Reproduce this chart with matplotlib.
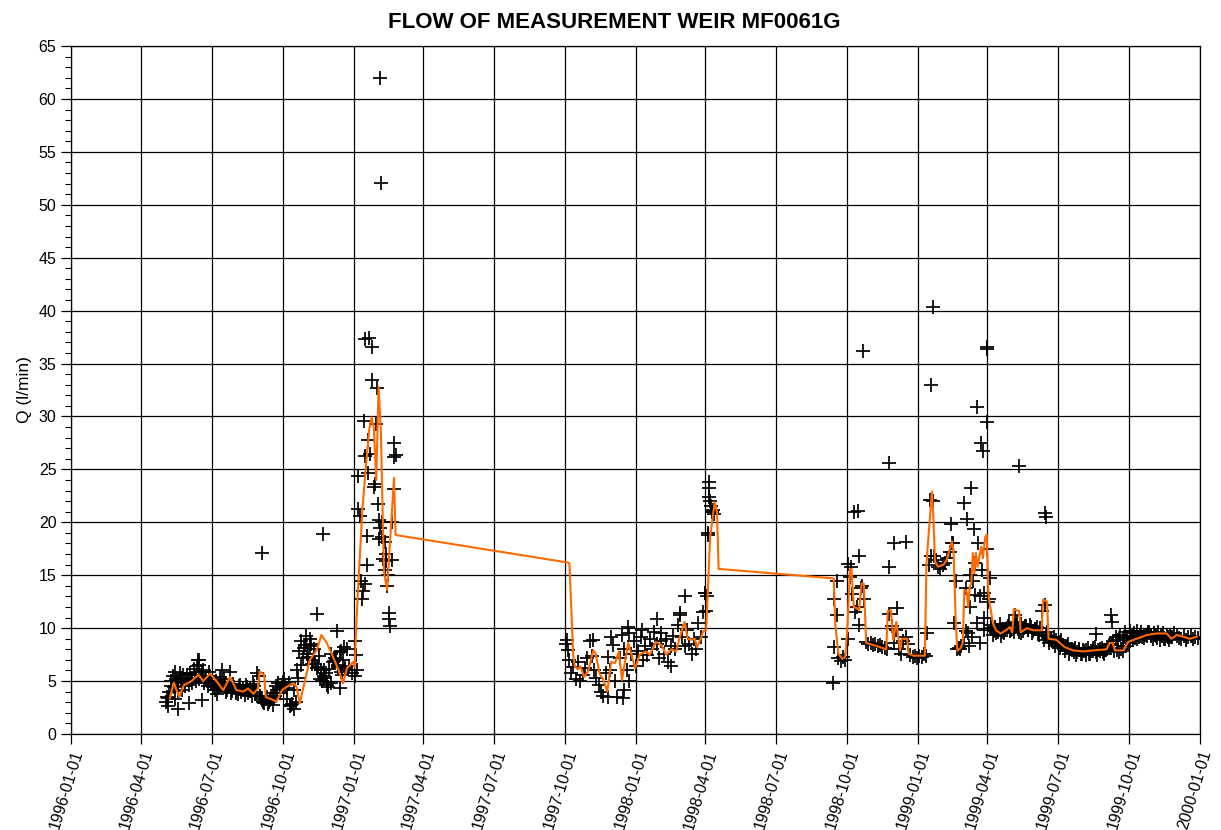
import numpy as np
import pandas as pd
import matplotlib
matplotlib.use('Agg')
import matplotlib.pyplot as plt
import matplotlib.dates as mdates
from matplotlib.ticker import MultipleLocator

# measured flow, regular readings (every 3 days) per campaign
seg1_start = '1996-05-03'
seg1_vals = [3.0, 2.6, 4.5, 5.5, 3.3, 4.8, 5.8, 4.2, 5.0, 5.6, 4.6, 5.3, 6.1, 5.0,
             7.0, 5.4, 6.0, 5.1, 4.5, 5.5, 4.9, 4.2, 3.8, 4.5, 6.0, 5.2, 4.0, 4.4,
             3.9, 4.7, 4.2, 3.8, 4.6, 4.3, 3.7, 4.4, 4.1, 3.6, 4.5, 4.0, 5.5, 3.4,
             3.0, 3.3, 2.8, 3.2, 2.7, 3.6, 4.2, 3.9, 4.6, 5.2, 4.3, 4.8, 2.7, 2.4,
             3.0, 5.3, 6.5, 7.2, 8.4, 7.6, 9.0, 6.6, 8.0, 6.2, 7.4, 6.0, 5.5, 5.8,
             4.4, 4.8, 6.8, 7.2, 6.3, 7.7, 5.6, 6.0, 8.0, 6.4, 5.8]

# second reading series, first campaign (offset days)
seg1b_start = '1996-05-04'
seg1b_vals = [3.5, 4.0, 5.0, 4.4, 5.2, 4.1, 5.3, 5.6, 4.5, 5.1, 5.8, 4.8, 5.6, 6.4,
              5.2, 5.9, 4.8, 5.3, 5.9, 4.7, 4.4, 5.0, 4.3, 5.4, 4.6, 4.8, 4.2, 4.6,
              4.1, 4.4, 3.9, 4.5, 4.0, 4.2, 4.6, 3.9, 4.3, 4.7, 3.8, 5.8, 3.6, 3.2,
              2.9, 3.5, 3.0, 3.4, 3.9, 4.5, 4.8, 4.3, 4.9, 4.6, 3.3, 2.6, 2.8, 4.2,
              6.0, 7.8, 8.8, 8.1, 9.3, 7.3, 8.5, 7.0, 6.6, 6.3, 5.2, 5.0, 5.3, 4.6,
              6.1, 7.6, 6.9, 7.1, 6.5, 5.9, 7.0, 6.2]

seg2_start = '1997-10-03'
seg2_vals = [8.5, 7.0, 5.8, 6.3, 5.2, 6.8, 5.0, 5.6, 6.2, 7.2, 8.8, 7.4, 6.0, 5.3,
             4.6, 4.0, 3.6, 5.8, 7.3, 6.0, 8.4, 5.0, 3.5, 7.2, 9.4, 8.0, 6.0, 5.0,
             7.6, 8.8, 6.4, 7.8, 9.2, 7.0, 8.3, 7.5, 9.0, 8.0, 9.6, 8.5, 7.2, 8.8,
             7.6, 9.0, 6.8, 8.3, 9.3, 8.0, 10.3, 11.2, 9.2, 8.3, 9.8, 8.5, 7.6, 9.0,
             8.0, 10.5, 9.2, 11.5, 13.3, 19.0, 22.0, 21.0]

seg3_start = '1998-09-20'
seg3_vals = [7.2, 6.9, 7.3, 7.0, 9.0, 14.8, 13.2, 11.5, 12.0, 10.3, 14.0, 12.8, 8.7,
             8.5, 8.6, 8.4, 8.5, 8.3, 8.4, 8.2, 8.1, 8.0, 11.3, 10.2, 8.6, 9.8, 8.0,
             7.6, 8.8, 9.2, 8.5, 7.5, 7.3, 7.4, 7.2, 7.4, 7.3, 7.6, 7.4, 16.0, 16.8,
             22.0, 16.4, 15.8, 15.6, 16.0, 16.2, 16.6, 17.2, 18.0, 10.5, 8.0, 8.1,
             8.3, 8.6, 13.8, 9.5, 12.0, 14.5, 16.2, 10.5, 13.0, 15.5, 11.0, 17.5,
             12.8, 10.0, 9.7, 9.5, 9.8, 9.3, 9.6, 9.9, 10.2, 9.7, 9.9, 11.2, 10.6,
             9.6, 9.5, 10.0, 10.2, 9.8, 10.1, 9.7, 9.9, 9.6, 10.0, 11.6, 12.2, 9.6,
             9.1, 8.8, 9.2, 8.9, 8.7, 8.9, 8.4, 8.2, 8.5, 8.0, 7.9, 8.1, 7.7, 7.9,
             7.6, 7.8, 7.9, 7.6, 7.8, 8.1, 7.7, 7.9, 8.0, 7.7, 7.9, 8.0, 8.5, 8.4,
             7.8, 7.9, 7.7, 8.0, 7.8, 8.3, 8.6, 8.8, 8.9, 9.1, 9.0, 9.3, 9.2, 9.4,
             9.3, 9.6, 9.4, 9.5, 9.3, 9.6, 9.4, 9.5, 9.0, 9.2, 9.4, 9.2, 9.5, 9.3,
             9.1, 9.0, 9.3, 8.9, 9.2, 9.3, 9.0, 9.2, 9.1]

# second reading series in the steady period (offset days, scatter around the mean)
seg4_start = '1999-04-05'
seg4_vals = [10.3, 9.4, 10.1, 9.6, 10.4, 9.9, 9.5, 10.0, 10.5, 9.8, 9.6, 10.3, 9.9,
             10.4, 9.7, 10.2, 9.8, 10.3, 9.5, 9.9, 10.1, 9.4, 9.6, 8.9, 9.3, 8.6,
             9.0, 8.7, 8.3, 8.6, 8.1, 8.4, 7.8, 8.2, 7.6, 8.0, 7.7, 7.5, 8.0, 7.6,
             7.9, 7.5, 8.1, 7.6, 7.8, 8.2, 7.5, 7.8, 8.1, 7.6, 7.9, 8.4, 8.1, 8.8,
             9.2, 8.9, 9.4, 9.1, 9.6, 9.2, 9.7, 9.3, 9.5, 9.7, 9.2, 9.6, 9.1, 9.4,
             9.6, 9.3, 9.0, 9.4, 9.1, 8.9, 9.3, 9.0, 9.3, 8.9, 9.2]

# single readings (storm events, outliers)
extra_dates = ['1996-05-06', '1996-05-15', '1996-05-18', '1996-06-02', '1996-06-13',
               '1996-06-14', '1996-06-18', '1996-07-25', '1996-09-04', '1996-11-05',
               '1996-11-14', '1996-11-20', '1996-11-22', '1996-11-23', '1996-12-10',
               '1996-12-14', '1996-12-16', '1996-12-19',
               '1997-01-02', '1997-01-03', '1997-01-04', '1997-01-05', '1997-01-07',
               '1997-01-07', '1997-01-09', '1997-01-10', '1997-01-11', '1997-01-13',
               '1997-01-14', '1997-01-15', '1997-01-15', '1997-01-15', '1997-01-18',
               '1997-01-18', '1997-01-19', '1997-01-19', '1997-01-21', '1997-01-22',
               '1997-01-24', '1997-01-25', '1997-01-27', '1997-01-29', '1997-01-30',
               '1997-01-31', '1997-02-01', '1997-02-03', '1997-02-03', '1997-02-04',
               '1997-02-04', '1997-02-05', '1997-02-06', '1997-02-07', '1997-02-08',
               '1997-02-10', '1997-02-10', '1997-02-11', '1997-02-12', '1997-02-13',
               '1997-02-14', '1997-02-16', '1997-02-16', '1997-02-17', '1997-02-20',
               '1997-02-20', '1997-02-22', '1997-02-22', '1997-02-22', '1997-02-24',
               '1997-10-04', '1997-10-05', '1997-11-07', '1997-11-26', '1997-11-30',
               '1997-12-15', '1997-12-17', '1997-12-22', '1997-12-23', '1998-01-09',
               '1998-01-28', '1998-02-02', '1998-02-15', '1998-02-27', '1998-03-05',
               '1998-03-31', '1998-04-02', '1998-04-03', '1998-04-04', '1998-04-05',
               '1998-04-06', '1998-04-06', '1998-04-08', '1998-04-09', '1998-04-11',
               '1998-04-12',
               '1998-09-13', '1998-09-14', '1998-09-14', '1998-09-18', '1998-09-18',
               '1998-10-03', '1998-10-07', '1998-10-10', '1998-10-15', '1998-10-17',
               '1998-10-19', '1998-10-22', '1998-11-24', '1998-11-25', '1998-12-01',
               '1998-12-05', '1998-12-16', '1999-01-13', '1999-01-16', '1999-01-18',
               '1999-01-20', '1999-01-22', '1999-02-13', '1999-02-15', '1999-02-19',
               '1999-02-24', '1999-03-02', '1999-03-04', '1999-03-06', '1999-03-08',
               '1999-03-10', '1999-03-11', '1999-03-12', '1999-03-14', '1999-03-16',
               '1999-03-19', '1999-03-20', '1999-03-22', '1999-03-24', '1999-03-26',
               '1999-03-27', '1999-03-28', '1999-03-31', '1999-04-01', '1999-04-01',
               '1999-04-02', '1999-04-04', '1999-05-12', '1999-06-15', '1999-06-16',
               '1999-08-20', '1999-09-08', '1999-09-09']
extra_vals = [3.4, 5.9, 2.4, 2.9, 7.0, 6.5, 3.2, 5.9, 17.1, 8.3,
              11.3, 6.0, 18.9, 6.0, 9.7, 4.3, 7.8, 8.2,
              5.5, 8.8, 7.5, 6.0, 24.4, 21.3, 20.6, 14.5, 12.8, 13.5,
              29.6, 37.3, 26.3, 14.2, 18.7, 16.0, 27.8, 24.7, 37.4, 26.5,
              36.6, 33.4, 23.3, 23.6, 29.3, 32.7, 21.7, 20.2, 18.4, 62.0,
              19.5, 52.1, 20.0, 18.6, 16.5, 18.1, 15.5, 17.0, 16.3, 14.0,
              15.0, 11.4, 10.9, 10.2, 20.0, 16.4, 27.5, 26.2, 23.1, 26.4,
              8.9, 7.9, 8.9, 3.5, 9.2, 3.4, 4.2, 10.1, 9.5, 9.8,
              10.9, 9.5, 6.4, 11.4, 13.0, 13.3, 11.6, 13.0, 18.8, 23.8,
              23.2, 22.4, 21.5, 21.0, 21.2, 20.8,
              4.8, 8.2, 12.8, 14.5, 11.2, 16.1, 15.8, 21.0, 21.1, 16.8,
              13.8, 36.2, 25.6, 15.8, 18.0, 11.9, 18.1, 9.5, 22.1, 33.0,
              40.3, 16.8, 19.8, 18.0, 14.5, 8.0, 21.8, 9.7, 20.3, 8.3,
              15.0, 23.2, 9.2, 19.4, 13.1, 30.9, 18.0, 8.6, 27.5, 26.7,
              13.3, 9.8, 29.5, 36.4, 36.6, 12.5, 14.7, 25.3, 20.9, 20.5,
              9.45, 11.2, 10.6]

# smoothed curve (orange)
smooth_dates = ['1996-05-08', '1996-05-13', '1996-05-20', '1996-05-26', '1996-06-05',
                '1996-06-14', '1996-06-20', '1996-06-29', '1996-07-05', '1996-07-16',
                '1996-07-25', '1996-08-02', '1996-08-11', '1996-08-17', '1996-08-24',
                '1996-08-30', '1996-09-01', '1996-09-07', '1996-09-09', '1996-09-19',
                '1996-09-23', '1996-09-30', '1996-10-06', '1996-10-15', '1996-10-19',
                '1996-10-23', '1996-10-30', '1996-11-05', '1996-11-14', '1996-11-20',
                '1996-11-27', '1996-12-05', '1996-12-12', '1996-12-18', '1996-12-23',
                '1996-12-31', '1997-01-02', '1997-01-04', '1997-01-07', '1997-01-12',
                '1997-01-16', '1997-01-21', '1997-01-24', '1997-01-27', '1997-01-30',
                '1997-02-02', '1997-02-05', '1997-02-09', '1997-02-13', '1997-02-22',
                '1997-02-24',
                '1997-10-05', '1997-10-07', '1997-10-12', '1997-10-14', '1997-10-18',
                '1997-10-21', '1997-10-26', '1997-10-31', '1997-11-07', '1997-11-10',
                '1997-11-15', '1997-11-20', '1997-11-25', '1997-11-30', '1997-12-05',
                '1997-12-10', '1997-12-14', '1997-12-22', '1997-12-26', '1997-12-31',
                '1998-01-06', '1998-01-14', '1998-01-19', '1998-01-27', '1998-02-03',
                '1998-02-09', '1998-02-16', '1998-02-22', '1998-02-27', '1998-03-05',
                '1998-03-09', '1998-03-14', '1998-03-18', '1998-03-21', '1998-03-26',
                '1998-03-29', '1998-04-02', '1998-04-07', '1998-04-13', '1998-04-16',
                '1998-04-18',
                '1998-09-14', '1998-09-16', '1998-09-20', '1998-09-25', '1998-09-29',
                '1998-10-02', '1998-10-05', '1998-10-07', '1998-10-10', '1998-10-14',
                '1998-10-17', '1998-10-20', '1998-10-23', '1998-10-26', '1998-11-09',
                '1998-11-21', '1998-11-23', '1998-11-27', '1998-11-30', '1998-12-04',
                '1998-12-07', '1998-12-09', '1998-12-11', '1998-12-18', '1998-12-20',
                '1998-12-26', '1999-01-10', '1999-01-12', '1999-01-19', '1999-01-21',
                '1999-01-23', '1999-01-27', '1999-02-03', '1999-02-07', '1999-02-12',
                '1999-02-14', '1999-02-16', '1999-02-19', '1999-02-21', '1999-02-25',
                '1999-02-28', '1999-03-02', '1999-03-05', '1999-03-07', '1999-03-09',
                '1999-03-11', '1999-03-13', '1999-03-15', '1999-03-17', '1999-03-19',
                '1999-03-24', '1999-03-26', '1999-03-29', '1999-03-31', '1999-04-02',
                '1999-04-03', '1999-04-08', '1999-04-12', '1999-04-18', '1999-04-25',
                '1999-04-30', '1999-05-03', '1999-05-05', '1999-05-12', '1999-05-14',
                '1999-05-22', '1999-05-30', '1999-06-10', '1999-06-12', '1999-06-17',
                '1999-06-19', '1999-06-29', '1999-07-10', '1999-07-21', '1999-08-03',
                '1999-08-16', '1999-09-02', '1999-09-06', '1999-09-10', '1999-09-13',
                '1999-09-24', '1999-09-30', '1999-10-11', '1999-10-24', '1999-11-06',
                '1999-11-19', '1999-11-25', '1999-12-02', '1999-12-10', '1999-12-19',
                '1999-12-28']
smooth_vals = [3.4, 4.85, 3.5, 4.6, 5.0, 5.6, 5.0, 5.7, 5.2, 4.15,
               5.4, 4.15, 4.0, 4.3, 3.8, 4.3, 5.9, 5.6, 3.5, 3.2,
               3.05, 4.15, 4.45, 4.8, 4.45, 2.9, 5.1, 7.0, 7.9, 9.35,
               8.6, 7.3, 6.1, 4.8, 6.2, 6.8, 6.3, 10.0, 14.5, 21.1,
               24.8, 28.8, 29.9, 28.8, 24.0, 32.8, 28.6, 15.3, 13.6, 24.2,
               18.8,
               16.2, 16.1, 7.3, 6.4, 6.1, 6.4, 5.4, 5.9, 7.9, 7.6,
               5.7, 5.1, 4.0, 6.8, 6.7, 7.8, 5.1, 8.6, 7.6, 6.2,
               7.5, 7.8, 7.5, 8.7, 8.4, 7.5, 8.0, 7.8, 9.2, 10.6,
               9.0, 8.9, 9.0, 8.2, 9.0, 9.7, 9.8, 18.6, 21.9, 21.0,
               15.6,
               14.7, 10.4, 7.6, 7.1, 7.3, 10.5, 15.5, 15.6, 12.0, 11.9,
               11.7, 14.2, 14.2, 8.6, 8.3, 8.0, 11.6, 11.7, 8.9, 10.6,
               8.9, 7.9, 9.0, 9.0, 7.6, 7.4, 7.4, 16.1, 22.9, 20.5,
               16.3, 15.8, 16.0, 16.4, 17.7, 18.2, 17.4, 10.4, 7.9, 8.1,
               8.6, 13.6, 13.5, 12.0, 13.9, 14.2, 17.1, 15.2, 17.1, 15.8,
               17.7, 16.6, 18.6, 18.8, 13.6, 12.7, 10.5, 9.8, 9.5, 9.8,
               10.1, 9.6, 11.8, 11.6, 9.6, 10.0, 9.8, 9.8, 12.7, 12.5,
               9.0, 8.9, 8.2, 7.9, 7.8, 7.9, 8.0, 8.6, 8.6, 7.9,
               7.9, 8.7, 9.0, 9.35, 9.5, 9.5, 9.0, 9.35, 9.2, 9.0,
               9.2]

y_ticks = np.arange(0, 66, 5)

fig = plt.figure(figsize=(12.21, 8.30), dpi=100)
ax = fig.add_axes([71/1221, 1 - 734/830, (1200 - 71)/1221, (734 - 46)/830])

marker_kw = dict(color='black', ms=10.5, mew=1.25, zorder=3, ls='none')
for start, vals in [(seg1_start, seg1_vals), (seg1b_start, seg1b_vals),
                    (seg2_start, seg2_vals), (seg3_start, seg3_vals),
                    (seg4_start, seg4_vals)]:
    d = pd.date_range(start, periods=len(vals), freq='3D')
    ax.plot(d, vals, '+', **marker_kw)
ax.plot(pd.to_datetime(extra_dates), extra_vals, '+', **marker_kw)

ax.plot(pd.to_datetime(smooth_dates), smooth_vals, '-', color='#ff6a00', lw=1.5, zorder=4)

ax.set_xlim(pd.Timestamp('1996-01-01'), pd.Timestamp('2000-01-01'))
ax.set_ylim(0, 65)
ax.set_yticks(y_ticks)
ax.yaxis.set_minor_locator(MultipleLocator(1))
ax.xaxis.set_major_locator(mdates.MonthLocator(bymonth=[1, 4, 7, 10]))
ax.xaxis.set_major_formatter(mdates.DateFormatter('%Y-%m-%d'))

ax.grid(True, which='major', color='black', lw=0.9)
ax.set_axisbelow(True)
ax.tick_params(axis='both', which='major', direction='out', length=7, width=0.9,
               labelsize=11.5, colors='black')
ax.tick_params(axis='y', which='minor', direction='out', length=4, width=0.8)
for lbl in ax.get_xticklabels():
    lbl.set_rotation(73)
    lbl.set_ha('right')
    lbl.set_va('top')
    lbl.set_rotation_mode('anchor')
for sp in ax.spines.values():
    sp.set_color('black')
    sp.set_linewidth(0.9)

ax.set_ylabel('Q (l/min)', fontsize=12.5, family='Liberation Sans', labelpad=5)
fig.text(614/1221, 1 - 22/830, 'FLOW OF MEASUREMENT WEIR MF0061G', fontsize=16,
         fontweight='bold', family='Liberation Sans', ha='center', va='center')
for lbl in ax.get_xticklabels() + ax.get_yticklabels():
    lbl.set_family('Liberation Sans')

fig.savefig('out.png', dpi=100)
